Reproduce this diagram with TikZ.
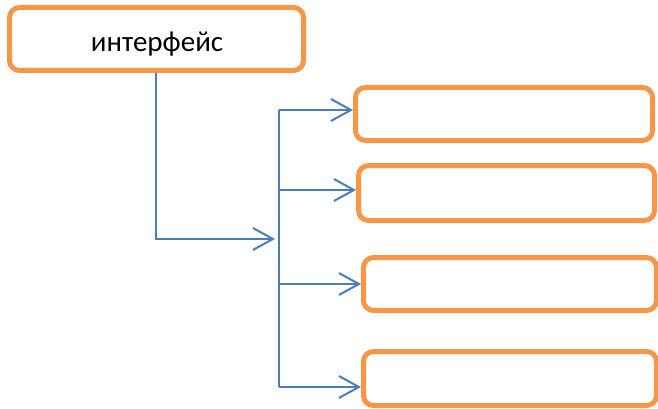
\documentclass[tikz,border=0pt]{standalone}
\usepackage{fontspec}
\setmainfont{Carlito}
\usetikzlibrary{arrows.meta}
\definecolor{boxorange}{HTML}{F79646}
\definecolor{lineblue}{HTML}{4A7EBB}
\begin{document}
\begin{tikzpicture}[x=1pt,y=-1pt,
  box/.style={draw=boxorange, line width=5pt, rounded corners=10pt, fill=white,
    inner sep=0pt, font=\fontsize{29}{34}\selectfont},
  conn/.style={draw=lineblue, line width=2pt},
  arr/.style={conn, -{Straight Barb[length=20pt,width=22pt]}}]
\useasboundingbox (0,0) rectangle (658,409);
\node[box, minimum width=294pt, minimum height=63pt] (top) at (156.5,39) {};
\node[font=\fontsize{29}{34}\selectfont, inner sep=0pt] (lbl) at (157,44) {интерфейс};
\node[box, minimum width=297pt, minimum height=53pt] (b1) at (504,114) {};
\node[box, minimum width=296pt, minimum height=55pt] (b2) at (506.5,193) {};
\node[box, minimum width=293pt, minimum height=53pt] (b3) at (510,284) {};
\node[box, minimum width=293pt, minimum height=54pt] (b4) at (510,378.5) {};
\coordinate (j) at (275,239);
\coordinate (t1) at (279,110);
\coordinate (t2) at (279,190);
\coordinate (t3) at (279,284);
\coordinate (t4) at (279,387);
\draw[arr] (top.south -| 156,0) |- (j);
\draw[conn] (t1) -- (t4);
\draw[arr] (t1) -- (t1 -| b1.west);
\draw[arr] (t2) -- (t2 -| b2.west);
\draw[arr] (t3) -- (t3 -| b3.west);
\draw[arr] (t4) -- (t4 -| b4.west);
\end{tikzpicture}
\end{document}
